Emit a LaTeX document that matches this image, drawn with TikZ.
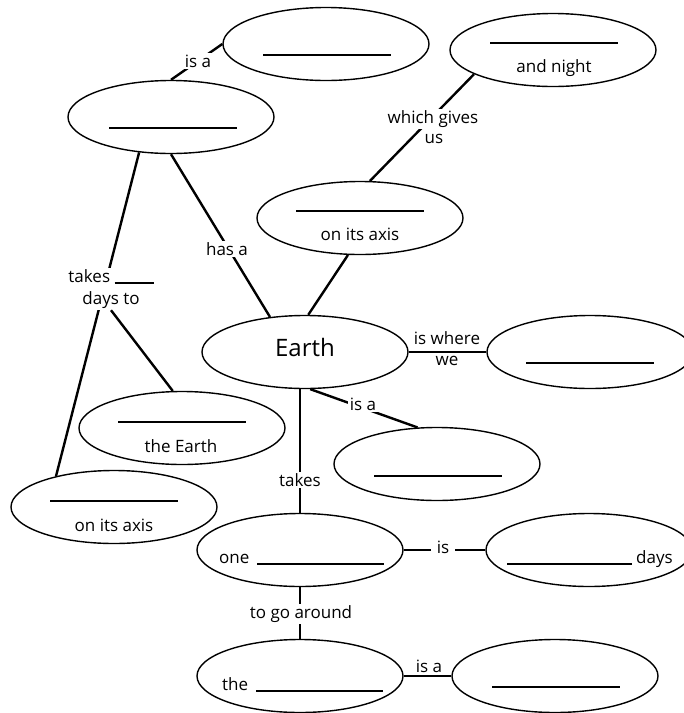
\documentclass[tikz,border=0pt]{standalone}
\usepackage{fontspec}
\setmainfont{Open Sans}
\usetikzlibrary{shapes.geometric,calc}
\begin{document}
\begin{tikzpicture}[x=1pt,y=-1pt,
  bubble/.style={ellipse,draw,line width=1.4pt,minimum width=206pt,minimum height=73pt,inner sep=0pt},
  conn/.style={line width=2.4pt},
  blank/.style={line width=1.8pt},
  lbl/.style={font=\fontsize{17}{22}\selectfont,inner sep=1.5pt,anchor=base},
  lblw/.style={lbl,fill=white},
  txt/.style={font=\fontsize{17}{22}\selectfont,inner sep=0pt,anchor=base}]
\clip (0,0) rectangle (684,713);
% bubbles
\node[bubble] (A) at (326,44) {};
\node[bubble] (N) at (553,50) {};
\node[bubble] (B) at (171,117) {};
\node[bubble] (C) at (360,218) {};
\node[bubble] (earth) at (305,352) {};
\node[bubble] (W) at (590,352) {};
\node[bubble] (D) at (437,464) {};
\node[bubble] (E) at (182,428) {};
\node[bubble] (F) at (114,507) {};
\node[bubble] (G) at (300,550) {};
\node[bubble] (H) at (589,550) {};
\node[bubble] (I) at (300,676) {};
\node[bubble] (J) at (555,676) {};
% contents
\node[txt,font=\fontsize{24}{26}\selectfont] (tEarth) at (305,356) {Earth};
\draw[blank] ($(A)+(-63,11)$) -- ++(128,0);
\draw[blank] ($(N)+(-63,-7)$) -- ++(128,0);
\node[txt] (tN) at (554,72) {and night};
\draw[blank] ($(B)+(-62,11)$) -- ++(128,0);
\draw[blank] ($(C)+(-64,-7)$) -- ++(128,0);
\node[txt] (tC) at (360,240) {on its axis};
\draw[blank] ($(W)+(-64,11)$) -- ++(128,0);
\draw[blank] ($(D)+(-63,12)$) -- ++(128,0);
\draw[blank] ($(E)+(-64,-6)$) -- ++(128,0);
\node[txt] (tE) at (181,452) {the Earth};
\draw[blank] ($(F)+(-64,-6)$) -- ++(128,0);
\node[txt] (tF) at (114,531) {on its axis};
\node[txt,anchor=base west] (tG) at (219,563) {one};
\draw[blank] (257,564) -- (384,564);
\draw[blank] (507,564) -- (632,564);
\node[txt,anchor=base west] (tH) at (636,563) {days};
\node[txt,anchor=base west] (tI) at (222,690) {the};
\draw[blank] (256,691) -- (383,691);
\draw[blank] ($(J)+(-63,11)$) -- ++(128,0);
% connectors
\draw[conn] (B.north) -- (A.west);
\node[lblw] (l1) at (198,67) {is a};
\draw[conn] (C.75) -- (N.197);
\node[lblw] (l2) at (433,123) {which gives};
\node[lbl] (l2b) at (434,143) {us};
\draw[conn] (earth.85) -- (C.252);
\draw[conn] (B.south) -- (earth.135);
\node[lblw] (l3) at (227,255) {has a};
\draw[conn] (B.228) -- (F.152);
\node[lblw,align=center,anchor=center] (l4) at (111,289) {takes \rule[-1.5pt]{39pt}{1.6pt}\\days to};
\draw[conn] (l4.south) -- (E.104);
\draw[conn] (earth.east) -- (W.west);
\node[lbl] (l5) at (447,344) {is where};
\node[lbl] (l5b) at (447,365) {we};
\draw[conn] (earth.278) -- (D.118);
\node[lblw] (l6) at (363,410) {is a};
\draw[conn] (G.north |- earth.south) -- (G.north);
\node[lblw] (l7) at (300,486) {takes};
\draw[conn] (G.east) -- (H.west);
\node[lblw,inner xsep=6pt] (l8) at (443,553) {is};
\draw[conn] (G.south) -- (I.north);
\node[lblw] (l9) at (301,618) {to go around};
\draw[conn] (I.east) -- (J.west);
\node[lbl] (l10) at (429,672) {is a};
\end{tikzpicture}
\end{document}
